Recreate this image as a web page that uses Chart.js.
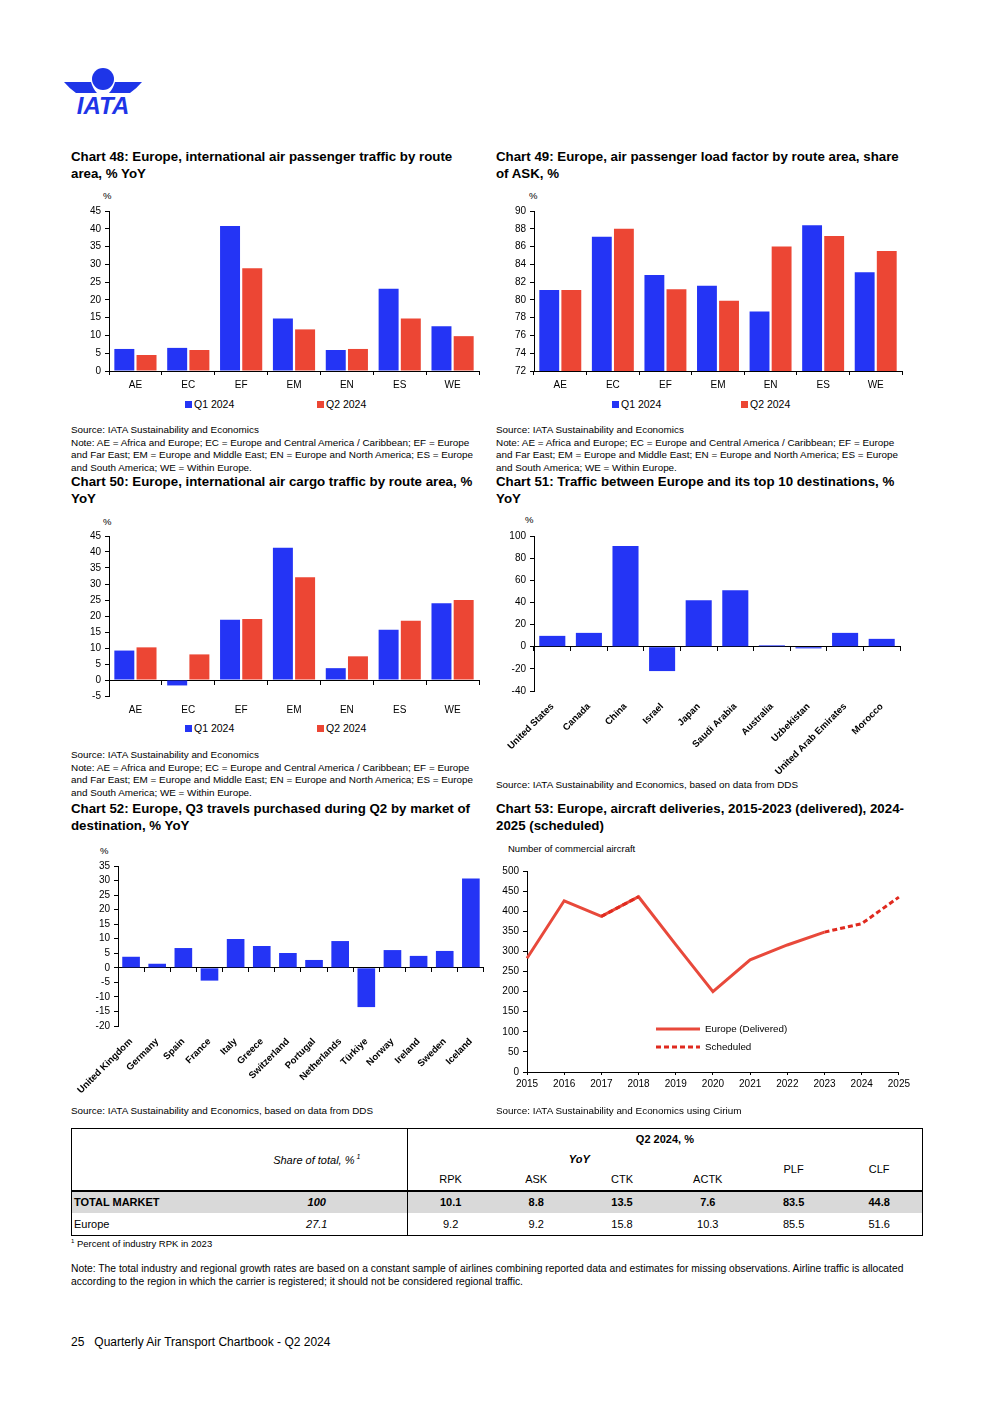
<!DOCTYPE html>
<html>
<head>
<meta charset="utf-8">
<script src="https://cdn.jsdelivr.net/npm/chart.js@4.4.1/dist/chart.umd.min.js"></script>
<style>
  body { margin:0; width:992px; height:1403px; position:relative; background:#fff; color:#000;
         font-family:'Liberation Sans', Arial, sans-serif; overflow:hidden; }
  .title { position:absolute; font-weight:bold; font-size:13.3px; line-height:17px; white-space:nowrap; }
  .src { position:absolute; font-size:9.9px; line-height:12.6px; white-space:nowrap; }
  .pct { position:absolute; font-size:9.5px; }
  .box { position:absolute; }
  .lg { position:absolute; font-size:10.5px; line-height:12px; white-space:nowrap; display:flex; align-items:center; }
  .lg i { display:inline-block; width:7px; height:7px; margin-right:2px; }
  #tbl { position:absolute; left:71px; top:1128px; width:851px; border-collapse:collapse; table-layout:fixed;
         font-family:'Liberation Sans', Arial, sans-serif; font-size:11px; border:1.5px solid #000; }
  #tbl td { padding:0 2px; text-align:center; vertical-align:middle; white-space:nowrap; }
  #tbl td.bl { border-left:1.5px solid #000; }
  #tbl td.lab { text-align:left; }
  #tbl .it { font-style:italic; }
  #tbl tr.tot td { background:#d9d9d9; font-weight:bold; border-top:2px solid #000; }
  #tbl sup { font-size:7px; }
</style>
</head>
<body>

<!-- logo -->
<svg class="box" style="left:60px;top:62px" width="90" height="56" viewBox="0 0 90 56">
  <circle cx="43" cy="17" r="11" fill="#1e35e8"/>
  <path d="M4,20 L31,20 Q33,27 37,31 L16,31 Q9,26 4,20 Z" fill="#1e35e8"/>
  <path d="M82,20 L55,20 Q53,27 49,31 L70,31 Q77,26 82,20 Z" fill="#1e35e8"/>
  <text x="43" y="52" text-anchor="middle" font-family="Liberation Sans, Arial" font-weight="bold" font-style="italic" font-size="24" fill="#1e35e8">IATA</text>
</svg>

<div class="title" style="left:71px;top:148px">Chart 48: Europe, international air passenger traffic by route<br>area, % YoY</div>
<div class="title" style="left:496px;top:148px">Chart 49: Europe, air passenger load factor by route area, share<br>of ASK, %</div>
<div class="title" style="left:71px;top:473px">Chart 50: Europe, international air cargo traffic by route area, %<br>YoY</div>
<div class="title" style="left:496px;top:473px">Chart 51: Traffic between Europe and its top 10 destinations, %<br>YoY</div>
<div class="title" style="left:71px;top:800px">Chart 52: Europe, Q3 travels purchased during Q2 by market of<br>destination, % YoY</div>
<div class="title" style="left:496px;top:800px">Chart 53: Europe, aircraft deliveries, 2015-2023 (delivered), 2024-<br>2025 (scheduled)</div>

<div class="pct" style="left:103px;top:190px">%</div>
<div class="pct" style="left:529px;top:190px">%</div>
<div class="pct" style="left:103px;top:516px">%</div>
<div class="pct" style="left:525px;top:514px">%</div>
<div class="pct" style="left:100px;top:845px">%</div>
<div class="pct" style="left:508px;top:843px">Number of commercial aircraft</div>

<div class="box" style="left:60px;top:201px"><canvas id="c48" width="421" height="192"></canvas></div>
<div class="box" style="left:485px;top:201px"><canvas id="c49" width="419" height="192"></canvas></div>
<div class="box" style="left:60px;top:526px"><canvas id="c50" width="421" height="192"></canvas></div>
<div class="box" style="left:485px;top:526px"><canvas id="c51" width="417" height="252"></canvas></div>
<div class="box" style="left:60px;top:856px"><canvas id="c52" width="429" height="240"></canvas></div>
<div class="box" style="left:480px;top:861px"><canvas id="c53" width="433" height="233"></canvas></div>

<div class="lg" style="left:185px;top:398px"><i style="background:#2434f5"></i>Q1 2024</div>
<div class="lg" style="left:317px;top:398px"><i style="background:#ec4634"></i>Q2 2024</div>
<div class="lg" style="left:612px;top:398px"><i style="background:#2434f5"></i>Q1 2024</div>
<div class="lg" style="left:741px;top:398px"><i style="background:#ec4634"></i>Q2 2024</div>
<div class="lg" style="left:185px;top:722px"><i style="background:#2434f5"></i>Q1 2024</div>
<div class="lg" style="left:317px;top:722px"><i style="background:#ec4634"></i>Q2 2024</div>

<div class="lg" style="left:656px;top:1023px;font-size:9.8px">
  <svg width="46" height="6" style="margin-right:3px"><line x1="0" y1="3" x2="44" y2="3" stroke="#e8493b" stroke-width="3"/></svg>Europe (Delivered)</div>
<div class="lg" style="left:656px;top:1041px;font-size:9.8px">
  <svg width="46" height="6" style="margin-right:3px"><line x1="0" y1="3" x2="44" y2="3" stroke="#e02a1f" stroke-width="3" stroke-dasharray="5,3"/></svg>Scheduled</div>

<div class="src" style="left:71px;top:424px">Source: IATA Sustainability and Economics<br>Note: AE = Africa and Europe; EC = Europe and Central America / Caribbean; EF = Europe<br>and Far East; EM = Europe and Middle East; EN = Europe and North America; ES = Europe<br>and South America; WE = Within Europe.</div>
<div class="src" style="left:496px;top:424px">Source: IATA Sustainability and Economics<br>Note: AE = Africa and Europe; EC = Europe and Central America / Caribbean; EF = Europe<br>and Far East; EM = Europe and Middle East; EN = Europe and North America; ES = Europe<br>and South America; WE = Within Europe.</div>
<div class="src" style="left:71px;top:749px">Source: IATA Sustainability and Economics<br>Note: AE = Africa and Europe; EC = Europe and Central America / Caribbean; EF = Europe<br>and Far East; EM = Europe and Middle East; EN = Europe and North America; ES = Europe<br>and South America; WE = Within Europe.</div>
<div class="src" style="left:496px;top:779px">Source: IATA Sustainability and Economics, based on data from DDS</div>
<div class="src" style="left:71px;top:1105px">Source: IATA Sustainability and Economics, based on data from DDS</div>
<div class="src" style="left:496px;top:1105px">Source: IATA Sustainability and Economics using Cirium</div>

<table id="tbl">
  <colgroup><col style="width:155px"><col style="width:181px"><col span="6" style="width:85.8px"></colgroup>
  <tr style="height:20px"><td rowspan="3"></td><td rowspan="3" class="it">Share of total, %<sup> 1</sup></td><td colspan="6" class="bl" style="font-weight:bold">Q2 2024, %</td></tr>
  <tr style="height:20px"><td colspan="4" class="bl it" style="font-weight:bold">YoY</td><td rowspan="2">PLF</td><td rowspan="2">CLF</td></tr>
  <tr style="height:22px"><td class="bl">RPK</td><td>ASK</td><td>CTK</td><td>ACTK</td></tr>
  <tr class="tot" style="height:22px"><td class="lab">TOTAL MARKET</td><td class="it">100</td><td class="bl">10.1</td><td>8.8</td><td>13.5</td><td>7.6</td><td>83.5</td><td>44.8</td></tr>
  <tr style="height:23px"><td class="lab">Europe</td><td class="it">27.1</td><td class="bl">9.2</td><td>9.2</td><td>15.8</td><td>10.3</td><td>85.5</td><td>51.6</td></tr>
</table>

<div class="src" style="left:71px;top:1235px;font-size:9.5px"><sup style="font-size:6px">1</sup> Percent of industry RPK in 2023</div>
<div class="src" style="left:71px;top:1262px;font-size:10.3px;line-height:13px">Note: The total industry and regional growth rates are based on a constant sample of airlines combining reported data and estimates for missing observations. Airline traffic is allocated<br>according to the region in which the carrier is registered; it should not be considered regional traffic.</div>

<div class="src" style="left:71px;top:1336px;font-size:12px">25&nbsp;&nbsp;&nbsp;Quarterly Air Transport Chartbook - Q2 2024</div>

<script>
// data
const routeAreas = ['AE', 'EC', 'EF', 'EM', 'EN', 'ES', 'WE'];
const paxQ1 = [6.2, 6.5, 40.8, 14.8, 5.9, 23.1, 12.6];
const paxQ2 = [4.5, 5.9, 28.9, 11.7, 6.2, 14.8, 9.8];
const plfQ1 = [81.1, 87.1, 82.8, 81.6, 78.7, 88.4, 83.1];
const plfQ2 = [81.1, 88.0, 81.2, 79.9, 86.0, 87.2, 85.5];
const cargoQ1 = [9.2, -1.7, 18.8, 41.3, 3.7, 15.7, 24.0];
const cargoQ2 = [10.2, 8.0, 19.1, 32.1, 7.4, 18.5, 25.0];

const topDestinations = ['United States', 'Canada', 'China', 'Israel', 'Japan', 'Saudi Arabia', 'Australia', 'Uzbekistan', 'United Arab Emirates', 'Morocco'];
const topDestGrowth = [9.8, 12.5, 91, -22, 42, 51, 1.2, -1.5, 12.5, 7.1];

const q3Markets = ['United Kingdom', 'Germany', 'Spain', 'France', 'Italy', 'Greece', 'Switzerland', 'Portugal', 'Netherlands', 'Türkiye', 'Norway', 'Ireland', 'Sweden', 'Iceland'];
const q3Growth = [3.8, 1.4, 6.8, -4.4, 9.9, 7.5, 5.1, 2.7, 9.2, -13.5, 6.1, 4.1, 5.8, 30.7];

const deliveryYears = ['2015', '2016', '2017', '2018', '2019', '2020', '2021', '2022', '2023', '2024', '2025'];
const delivered = [283, 426, 387, 436, 317, 200, 279, 316, 348, null, null];
const scheduled = [null, null, 387, 436, null, null, null, null, 348, 369, 435];

const BLUE = '#2434f5';
const RED = '#ec4634';

Chart.defaults.font.family = "'Liberation Sans', Arial, sans-serif";
Chart.defaults.font.size = 10;
Chart.defaults.color = '#000';

function yAxis(min, max, step, width) {
    return {
        min: min, max: max,
        ticks: {stepSize: step, padding: 4, autoSkip: false},
        grid: {drawOnChartArea: false, tickLength: 4, color: '#000'},
        border: {color: '#000'},
        afterFit: s => { s.width = width; }
    };
}

// plain bottom axis with line + tick marks
function xAxisLine(height) {
    return {
        ticks: {padding: 4, maxRotation: 0},
        grid: {drawOnChartArea: false, tickLength: 4, color: '#000'},
        border: {color: '#000'},
        afterFit: s => { s.height = height; }
    };
}

// labels only at the bottom, line is drawn by the zero axis
function xAxisLabels(height, rotated) {
    return {
        ticks: rotated ? {padding: 10, minRotation: 45, maxRotation: 45, autoSkip: false, font: {size: 9.5, weight: 'bold'}}
                       : {padding: 8, maxRotation: 0},
        grid: {display: false, drawTicks: false},
        border: {display: false},
        afterFit: s => { s.height = height; }
    };
}

const zeroAxis = {
    axis: 'x',
    type: 'category',
    position: {y: 0},
    offset: true,
    ticks: {display: false},
    grid: {drawOnChartArea: false, tickLength: 4, color: '#000', offset: true},
    border: {color: '#000'},
    afterFit: s => { s.height = 0; }
};

function barChart(id, labels, datasets, scales, padRight) {
    new Chart(document.getElementById(id), {
        type: 'bar',
        data: {labels: labels, datasets: datasets},
        options: {
            responsive: false,
            animation: false,
            layout: {padding: {top: 8, right: padRight, left: 0, bottom: 0}},
            plugins: {legend: {display: false}, tooltip: {enabled: false}},
            scales: scales
        }
    });
}

function twoSeries(q1, q2) {
    return [
        {label: 'Q1 2024', data: q1, backgroundColor: BLUE, categoryPercentage: 0.84, barPercentage: 0.9},
        {label: 'Q2 2024', data: q2, backgroundColor: RED, categoryPercentage: 0.84, barPercentage: 0.9}
    ];
}

barChart('c48', routeAreas, twoSeries(paxQ1, paxQ2), {x: xAxisLine(22), y: yAxis(0, 45, 5, 49)}, 2);
barChart('c49', routeAreas, twoSeries(plfQ1, plfQ2), {x: xAxisLine(22), y: yAxis(72, 90, 2, 49)}, 2);
barChart('c50', routeAreas, twoSeries(cargoQ1, cargoQ2), {x: xAxisLabels(22, false), x0: zeroAxis, y: yAxis(-5, 45, 5, 49)}, 2);

barChart('c51', topDestinations,
    [{label: 'YoY', data: topDestGrowth, backgroundColor: BLUE, categoryPercentage: 0.8, barPercentage: 0.89}],
    {x: xAxisLabels(87, true), x0: zeroAxis, y: yAxis(-40, 100, 20, 49)}, 2);

barChart('c52', q3Markets,
    [{label: 'YoY', data: q3Growth, backgroundColor: BLUE, categoryPercentage: 0.75, barPercentage: 0.9}],
    {x: xAxisLabels(70, true), x0: zeroAxis, y: yAxis(-20, 35, 5, 58)}, 2);

new Chart(document.getElementById('c53'), {
    type: 'line',
    data: {
        labels: deliveryYears,
        datasets: [
            {label: 'Scheduled', data: scheduled, borderColor: '#e02a1f', borderWidth: 3, borderDash: [5, 3],
             pointRadius: 0, tension: 0, order: 0},
            {label: 'Europe (Delivered)', data: delivered, borderColor: '#e8493b', borderWidth: 3,
             pointRadius: 0, tension: 0, order: 1}
        ]
    },
    options: {
        responsive: false,
        animation: false,
        layout: {padding: {top: 8, right: 14, left: 0, bottom: 0}},
        plugins: {legend: {display: false}, tooltip: {enabled: false}},
        scales: {
            x: {
                offset: false,
                ticks: {padding: 3, maxRotation: 0, autoSkip: false},
                grid: {drawOnChartArea: false, tickLength: 3, color: '#000'},
                border: {color: '#000'},
                afterFit: s => { s.height = 22; }
            },
            y: yAxis(0, 500, 50, 47)
        }
    }
});
</script>
</body>
</html>
